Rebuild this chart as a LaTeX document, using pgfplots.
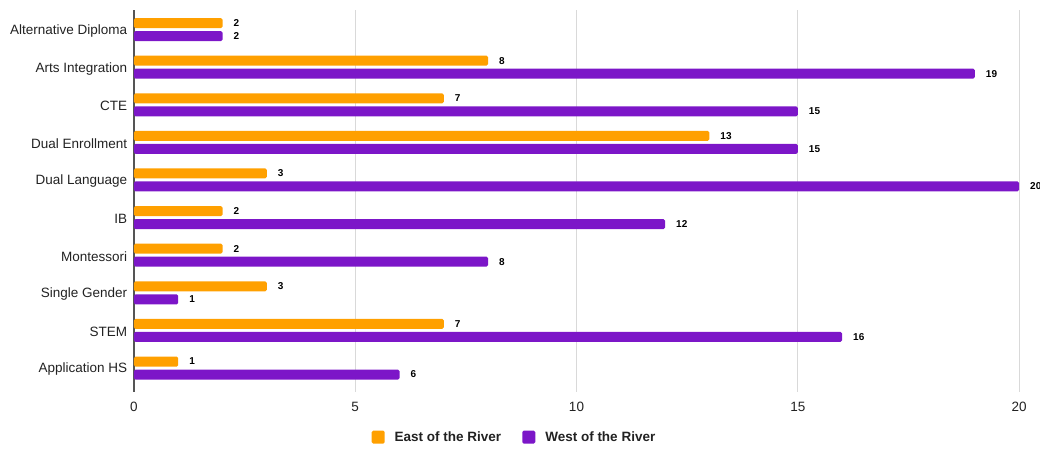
\documentclass[border=0pt]{standalone}
\usepackage{fontspec}
\setmainfont{Liberation Sans}
\usepackage{pgfplots}
\pgfplotsset{compat=1.18}
\usetikzlibrary{calc}
\definecolor{eastc}{RGB}{255,160,0}
\definecolor{westc}{RGB}{124,22,200}
\definecolor{gridc}{RGB}{217,217,217}
\definecolor{axisc}{RGB}{85,85,85}
\definecolor{labelc}{RGB}{34,34,34}

\begin{document}
\begin{tikzpicture}
\begin{axis}[
    name=ax,
    scale only axis,
    width=885pt, height=382pt,
    xbar,
    xmin=0, xmax=20,
    ymin=-0.638, ymax=9.52,
    clip=false,
    axis x line*=bottom,
    axis y line*=left,
    x axis line style={draw=none},
    y axis line style={draw=axisc, line width=1.2pt, -},
    tick style={draw=none},
    xmajorgrids,
    grid style={draw=gridc, line width=0.9pt},
    xtick={0,5,10,15,20},
    ytick={0,1,2,3,4,5,6,7,8,9},
    yticklabels={Application HS, STEM, Single Gender, Montessori, IB, Dual Language, Dual Enrollment, CTE, Arts Integration, Alternative Diploma},
    /pgf/number format/assume math mode=true,
    xticklabel style={font=\fontsize{13.5}{16}\selectfont, text=labelc, yshift=-7pt},
    yticklabel style={font=\fontsize{13.5}{16}\selectfont, text=labelc, xshift=1pt, yshift=-1.5pt},
    bar width=10pt,
    nodes near coords,
    nodes near coords style={font=\bfseries\fontsize{10}{12}\selectfont, text=black, anchor=west, inner sep=0pt, xshift=11pt},
    legend style={at={(0.265,-0.118)}, anchor=west, draw=none, legend columns=2,
        font=\bfseries\fontsize{13.5}{16}\selectfont, text=labelc,
        /tikz/every odd column/.append style={column sep=8pt},
        /tikz/every even column/.append style={column sep=19pt}},
    legend image code/.code={\path[#1, draw=none] (0pt,-6.5pt) rectangle (13pt,6.5pt);},
]

\addplot[fill=eastc, draw=none, rounded corners=1.5pt, bar shift=6.5pt] coordinates {
    (1,0) (7,1) (3,2) (2,3) (2,4) (3,5) (13,6) (7,7) (8,8) (2,9)
};
\addlegendentry{East of the River}

\addplot[fill=westc, draw=none, rounded corners=1.5pt, bar shift=-6.5pt] coordinates {
    (6,0) (16,1) (1,2) (8,3) (12,4) (20,5) (15,6) (15,7) (19,8) (2,9)
};
\addlegendentry{West of the River}

\end{axis}
\pgfresetboundingbox
\path[use as bounding box] ($(ax.south west)+(-134pt,-57pt)$) rectangle ($(ax.south west)+(906pt,392pt)$);
\end{tikzpicture}
\end{document}
